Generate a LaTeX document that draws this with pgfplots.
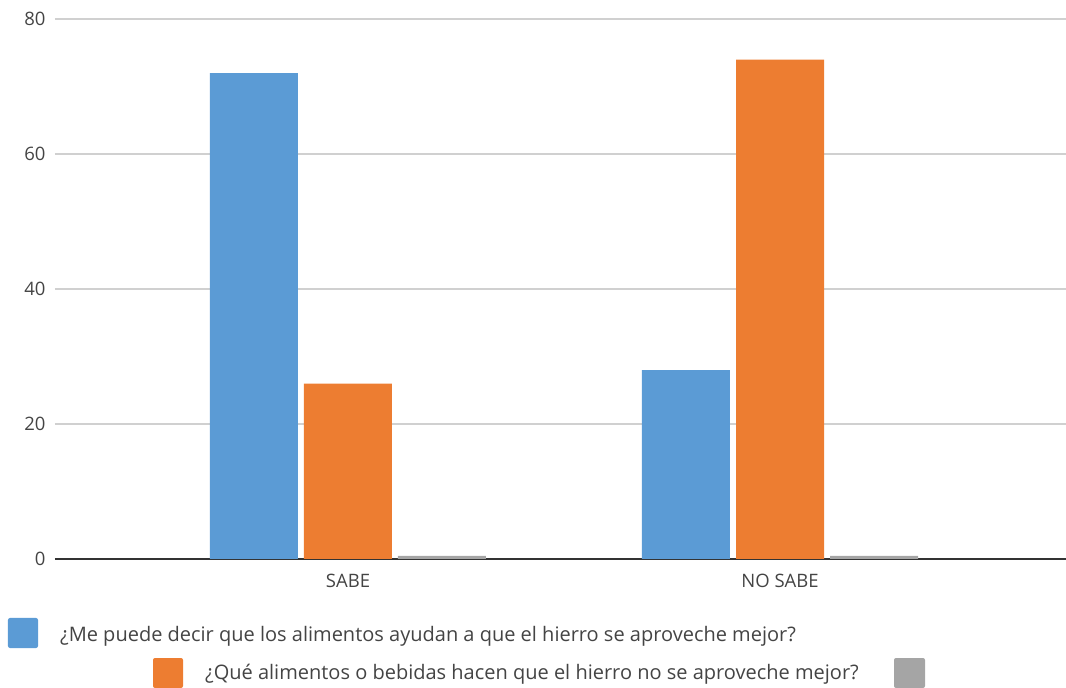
\documentclass[border=0pt]{standalone}
\usepackage{fontspec}
\setmainfont{Open Sans}
\usepackage{pgfplots}
\pgfplotsset{compat=1.18}

\definecolor{serieA}{HTML}{5B9BD5}
\definecolor{serieB}{HTML}{ED7D31}
\definecolor{serieC}{HTML}{A5A5A5}
\definecolor{gridgray}{HTML}{D0D0D0}
\definecolor{axisdark}{HTML}{333333}
\definecolor{textgray}{HTML}{444444}

\begin{document}
\begin{tikzpicture}[x=1pt,y=1pt]
\useasboundingbox (-55,-129) rectangle (1011,559);
\begin{axis}[
  at={(0,0)}, anchor=south west,
  scale only axis,
  width=1011pt, height=540pt,
  xmin=-0.6782, xmax=1.6620,
  ymin=0, ymax=80,
  ytick={0,20,40,60,80},
  xtick={0,1},
  xticklabels={SABE, NO SABE},
  axis lines*=left,
  y axis line style={draw=none},
  x axis line style={draw=axisdark, line width=1.6pt},
  ymajorgrids,
  grid style={draw=gridgray, line width=1.3pt},
  major tick length=0pt,
  tick style={draw=none},
  ticklabel style={font=\fontsize{18.5}{22}\selectfont, text=textgray},
  yticklabel style={xshift=-6pt},
  xticklabel style={yshift=-12pt},
  /pgf/number format/assume math mode=true,
  ybar,
  bar width=0.2037,
  every axis plot/.append style={draw=none},
]
\addplot[fill=serieA, bar shift=-0.2176] coordinates {(0,72) (1,28)};
\addplot[fill=serieB, bar shift=0] coordinates {(0,26) (1,74)};
\addplot[fill=serieC, bar shift=0.2176] coordinates {(0,0.45) (1,0.45)};
\end{axis}

% legend
\fill[serieA, rounded corners=2pt] (-47,-89) rectangle (-17,-59);
\node[anchor=base west, inner sep=0pt, text=textgray, font=\fontsize{20}{23}\selectfont]
  at (5,-82) {¿Me puede decir que los alimentos ayudan a que el hierro se aproveche mejor?};
\fill[serieB, rounded corners=2pt] (98,-129) rectangle (128,-99);
\node[anchor=base west, inner sep=0pt, text=textgray, font=\fontsize{20}{23}\selectfont]
  at (150,-121) {¿Qué alimentos o bebidas hacen que el hierro no se aproveche mejor?};
\fill[serieC, rounded corners=2pt] (839,-129) rectangle (870,-99);
\end{tikzpicture}
\end{document}
